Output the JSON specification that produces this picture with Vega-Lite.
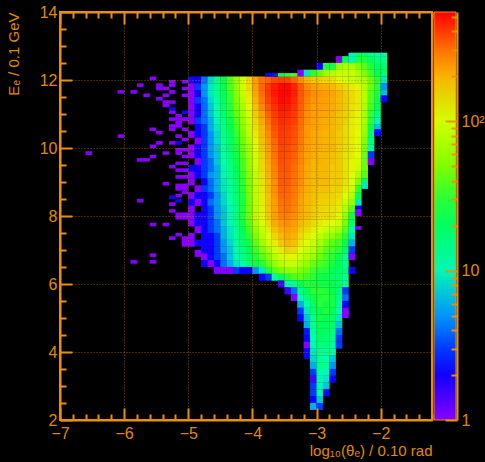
{"$schema":"https://vega.github.io/schema/vega-lite/v6.json","width":372,"height":408,"autosize":{"type":"none"},"padding":{"left":60,"top":12,"right":53,"bottom":42},"background":"#000000",
"config":{"view":{"stroke":"#ee8f00","strokeWidth":2},"axis":{"labelFont":"Liberation Sans","titleFont":"Liberation Sans","labelColor":"#e08a00","titleColor":"#e08a00","domainColor":"#ee8f00","tickColor":"#ee8f00","domainWidth":2,"tickWidth":2,"labelFontSize":16,"titleFontSize":15,"titleFontWeight":"normal","labelOverlap":false,"labelBound":false,"labelFlush":false}},
"datasets":{
"cells":[
{"x":-4.95,"y":12,"n":2},{"x":-4.95,"y":11.8,"n":1},{"x":-4.95,"y":11.6,"n":1},{"x":-4.95,"y":11.4,"n":1},{"x":-4.95,"y":11.2,"n":1},{"x":-4.95,"y":11,"n":1},{"x":-4.95,"y":10.8,"n":1},{"x":-4.95,"y":10.4,"n":1},{"x":-4.95,"y":10,"n":1},{"x":-4.95,"y":9.8,"n":1},{"x":-4.95,"y":9.4,"n":2},{"x":-4.95,"y":9.2,"n":1},{"x":-4.95,"y":9,"n":1},{"x":-4.95,"y":8.6,"n":1},{"x":-4.95,"y":8.4,"n":2},{"x":-4.95,"y":8.2,"n":1},{"x":-4.95,"y":8,"n":1},{"x":-4.95,"y":7.8,"n":1},{"x":-4.95,"y":7.4,"n":1},{"x":-4.95,"y":7.2,"n":1},
{"x":-4.85,"y":12,"n":2},{"x":-4.85,"y":11.8,"n":3},{"x":-4.85,"y":11.6,"n":2},{"x":-4.85,"y":11.4,"n":3},{"x":-4.85,"y":11.2,"n":2},{"x":-4.85,"y":11,"n":2},{"x":-4.85,"y":10.8,"n":3},{"x":-4.85,"y":10.6,"n":2},{"x":-4.85,"y":10.4,"n":2},{"x":-4.85,"y":10.2,"n":1},{"x":-4.85,"y":10,"n":2},{"x":-4.85,"y":9.8,"n":2},{"x":-4.85,"y":9.6,"n":1},{"x":-4.85,"y":9.4,"n":2},{"x":-4.85,"y":9.2,"n":2},{"x":-4.85,"y":8.8,"n":1},{"x":-4.85,"y":8.6,"n":2},{"x":-4.85,"y":8.4,"n":1},{"x":-4.85,"y":8,"n":2},{"x":-4.85,"y":7.8,"n":2},{"x":-4.85,"y":7.6,"n":1},{"x":-4.85,"y":7.2,"n":2},{"x":-4.85,"y":6.9,"n":1},
{"x":-4.75,"y":12,"n":4},{"x":-4.75,"y":11.8,"n":5},{"x":-4.75,"y":11.6,"n":5},{"x":-4.75,"y":11.4,"n":4},{"x":-4.75,"y":11.2,"n":4},{"x":-4.75,"y":11,"n":4},{"x":-4.75,"y":10.8,"n":4},{"x":-4.75,"y":10.6,"n":3},{"x":-4.75,"y":10.4,"n":3},{"x":-4.75,"y":10.2,"n":3},{"x":-4.75,"y":10,"n":3},{"x":-4.75,"y":9.8,"n":3},{"x":-4.75,"y":9.6,"n":3},{"x":-4.75,"y":9.4,"n":3},{"x":-4.75,"y":9.2,"n":3},{"x":-4.75,"y":9,"n":2},{"x":-4.75,"y":8.8,"n":3},{"x":-4.75,"y":8.6,"n":2},{"x":-4.75,"y":8.4,"n":2},{"x":-4.75,"y":8.2,"n":2},{"x":-4.75,"y":8,"n":2},{"x":-4.75,"y":7.8,"n":2},{"x":-4.75,"y":7.6,"n":2},{"x":-4.75,"y":7.4,"n":2},{"x":-4.75,"y":7.2,"n":2},{"x":-4.75,"y":7,"n":2},{"x":-4.75,"y":6.8,"n":1},{"x":-4.75,"y":6.6,"n":2},
{"x":-4.65,"y":12,"n":8},{"x":-4.65,"y":11.8,"n":9},{"x":-4.65,"y":11.6,"n":9},{"x":-4.65,"y":11.4,"n":8},{"x":-4.65,"y":11.2,"n":7},{"x":-4.65,"y":11,"n":7},{"x":-4.65,"y":10.8,"n":6},{"x":-4.65,"y":10.6,"n":6},{"x":-4.65,"y":10.4,"n":5},{"x":-4.65,"y":10.2,"n":5},{"x":-4.65,"y":10,"n":5},{"x":-4.65,"y":9.8,"n":5},{"x":-4.65,"y":9.6,"n":4},{"x":-4.65,"y":9.4,"n":4},{"x":-4.65,"y":9.2,"n":5},{"x":-4.65,"y":9,"n":4},{"x":-4.65,"y":8.8,"n":4},{"x":-4.65,"y":8.6,"n":3},{"x":-4.65,"y":8.4,"n":4},{"x":-4.65,"y":8.2,"n":3},{"x":-4.65,"y":8,"n":3},{"x":-4.65,"y":7.8,"n":3},{"x":-4.65,"y":7.6,"n":3},{"x":-4.65,"y":7.4,"n":2},{"x":-4.65,"y":7.2,"n":2},{"x":-4.65,"y":7,"n":2},{"x":-4.65,"y":6.8,"n":2},{"x":-4.65,"y":6.6,"n":1},
{"x":-4.55,"y":12,"n":14},{"x":-4.55,"y":11.8,"n":14},{"x":-4.55,"y":11.6,"n":13},{"x":-4.55,"y":11.4,"n":12},{"x":-4.55,"y":11.2,"n":11},{"x":-4.55,"y":11,"n":11},{"x":-4.55,"y":10.8,"n":10},{"x":-4.55,"y":10.6,"n":9},{"x":-4.55,"y":10.4,"n":8},{"x":-4.55,"y":10.2,"n":8},{"x":-4.55,"y":10,"n":7},{"x":-4.55,"y":9.8,"n":7},{"x":-4.55,"y":9.6,"n":7},{"x":-4.55,"y":9.4,"n":6},{"x":-4.55,"y":9.2,"n":6},{"x":-4.55,"y":9,"n":6},{"x":-4.55,"y":8.8,"n":6},{"x":-4.55,"y":8.6,"n":5},{"x":-4.55,"y":8.4,"n":5},{"x":-4.55,"y":8.2,"n":5},{"x":-4.55,"y":8,"n":5},{"x":-4.55,"y":7.8,"n":4},{"x":-4.55,"y":7.6,"n":4},{"x":-4.55,"y":7.4,"n":3},{"x":-4.55,"y":7.2,"n":3},{"x":-4.55,"y":7,"n":3},{"x":-4.55,"y":6.8,"n":3},{"x":-4.55,"y":6.6,"n":2},{"x":-4.55,"y":6.4,"n":1},
{"x":-4.45,"y":12,"n":24},{"x":-4.45,"y":11.8,"n":24},{"x":-4.45,"y":11.6,"n":22},{"x":-4.45,"y":11.4,"n":20},{"x":-4.45,"y":11.2,"n":19},{"x":-4.45,"y":11,"n":18},{"x":-4.45,"y":10.8,"n":16},{"x":-4.45,"y":10.6,"n":15},{"x":-4.45,"y":10.4,"n":14},{"x":-4.45,"y":10.2,"n":13},{"x":-4.45,"y":10,"n":12},{"x":-4.45,"y":9.8,"n":12},{"x":-4.45,"y":9.6,"n":11},{"x":-4.45,"y":9.4,"n":10},{"x":-4.45,"y":9.2,"n":10},{"x":-4.45,"y":9,"n":9},{"x":-4.45,"y":8.8,"n":9},{"x":-4.45,"y":8.6,"n":8},{"x":-4.45,"y":8.4,"n":8},{"x":-4.45,"y":8.2,"n":7},{"x":-4.45,"y":8,"n":7},{"x":-4.45,"y":7.8,"n":7},{"x":-4.45,"y":7.6,"n":6},{"x":-4.45,"y":7.4,"n":6},{"x":-4.45,"y":7.2,"n":5},{"x":-4.45,"y":7,"n":5},{"x":-4.45,"y":6.8,"n":4},{"x":-4.45,"y":6.6,"n":4},{"x":-4.45,"y":6.4,"n":1},
{"x":-4.35,"y":12,"n":38},{"x":-4.35,"y":11.8,"n":38},{"x":-4.35,"y":11.6,"n":34},{"x":-4.35,"y":11.4,"n":32},{"x":-4.35,"y":11.2,"n":30},{"x":-4.35,"y":11,"n":28},{"x":-4.35,"y":10.8,"n":25},{"x":-4.35,"y":10.6,"n":23},{"x":-4.35,"y":10.4,"n":21},{"x":-4.35,"y":10.2,"n":20},{"x":-4.35,"y":10,"n":18},{"x":-4.35,"y":9.8,"n":17},{"x":-4.35,"y":9.6,"n":16},{"x":-4.35,"y":9.4,"n":15},{"x":-4.35,"y":9.2,"n":14},{"x":-4.35,"y":9,"n":13},{"x":-4.35,"y":8.8,"n":13},{"x":-4.35,"y":8.6,"n":12},{"x":-4.35,"y":8.4,"n":11},{"x":-4.35,"y":8.2,"n":10},{"x":-4.35,"y":8,"n":10},{"x":-4.35,"y":7.8,"n":10},{"x":-4.35,"y":7.6,"n":9},{"x":-4.35,"y":7.4,"n":9},{"x":-4.35,"y":7.2,"n":8},{"x":-4.35,"y":7,"n":7},{"x":-4.35,"y":6.8,"n":7},{"x":-4.35,"y":6.6,"n":6},{"x":-4.35,"y":6.4,"n":1},
{"x":-4.25,"y":12,"n":60},{"x":-4.25,"y":11.8,"n":60},{"x":-4.25,"y":11.6,"n":55},{"x":-4.25,"y":11.4,"n":50},{"x":-4.25,"y":11.2,"n":46},{"x":-4.25,"y":11,"n":42},{"x":-4.25,"y":10.8,"n":38},{"x":-4.25,"y":10.6,"n":35},{"x":-4.25,"y":10.4,"n":32},{"x":-4.25,"y":10.2,"n":30},{"x":-4.25,"y":10,"n":28},{"x":-4.25,"y":9.8,"n":26},{"x":-4.25,"y":9.6,"n":25},{"x":-4.25,"y":9.4,"n":23},{"x":-4.25,"y":9.2,"n":21},{"x":-4.25,"y":9,"n":20},{"x":-4.25,"y":8.8,"n":19},{"x":-4.25,"y":8.6,"n":18},{"x":-4.25,"y":8.4,"n":17},{"x":-4.25,"y":8.2,"n":16},{"x":-4.25,"y":8,"n":16},{"x":-4.25,"y":7.8,"n":15},{"x":-4.25,"y":7.6,"n":14},{"x":-4.25,"y":7.4,"n":13},{"x":-4.25,"y":7.2,"n":12},{"x":-4.25,"y":7,"n":11},{"x":-4.25,"y":6.8,"n":10},{"x":-4.25,"y":6.6,"n":9},{"x":-4.25,"y":6.4,"n":3},
{"x":-4.15,"y":12,"n":100},{"x":-4.15,"y":11.8,"n":100},{"x":-4.15,"y":11.6,"n":90},{"x":-4.15,"y":11.4,"n":80},{"x":-4.15,"y":11.2,"n":72},{"x":-4.15,"y":11,"n":66},{"x":-4.15,"y":10.8,"n":58},{"x":-4.15,"y":10.6,"n":54},{"x":-4.15,"y":10.4,"n":48},{"x":-4.15,"y":10.2,"n":45},{"x":-4.15,"y":10,"n":42},{"x":-4.15,"y":9.8,"n":40},{"x":-4.15,"y":9.6,"n":36},{"x":-4.15,"y":9.4,"n":35},{"x":-4.15,"y":9.2,"n":32},{"x":-4.15,"y":9,"n":30},{"x":-4.15,"y":8.8,"n":30},{"x":-4.15,"y":8.6,"n":28},{"x":-4.15,"y":8.4,"n":27},{"x":-4.15,"y":8.2,"n":28},{"x":-4.15,"y":8,"n":28},{"x":-4.15,"y":7.8,"n":26},{"x":-4.15,"y":7.6,"n":23},{"x":-4.15,"y":7.4,"n":20},{"x":-4.15,"y":7.2,"n":18},{"x":-4.15,"y":7,"n":16},{"x":-4.15,"y":6.8,"n":14},{"x":-4.15,"y":6.6,"n":12},{"x":-4.15,"y":6.4,"n":2},
{"x":-4.05,"y":12,"n":150},{"x":-4.05,"y":11.8,"n":150},{"x":-4.05,"y":11.6,"n":135},{"x":-4.05,"y":11.4,"n":125},{"x":-4.05,"y":11.2,"n":115},{"x":-4.05,"y":11,"n":100},{"x":-4.05,"y":10.8,"n":92},{"x":-4.05,"y":10.6,"n":85},{"x":-4.05,"y":10.4,"n":80},{"x":-4.05,"y":10.2,"n":72},{"x":-4.05,"y":10,"n":66},{"x":-4.05,"y":9.8,"n":62},{"x":-4.05,"y":9.6,"n":58},{"x":-4.05,"y":9.4,"n":55},{"x":-4.05,"y":9.2,"n":52},{"x":-4.05,"y":9,"n":50},{"x":-4.05,"y":8.8,"n":48},{"x":-4.05,"y":8.6,"n":46},{"x":-4.05,"y":8.4,"n":45},{"x":-4.05,"y":8.2,"n":45},{"x":-4.05,"y":8,"n":45},{"x":-4.05,"y":7.8,"n":40},{"x":-4.05,"y":7.6,"n":35},{"x":-4.05,"y":7.4,"n":30},{"x":-4.05,"y":7.2,"n":26},{"x":-4.05,"y":7,"n":23},{"x":-4.05,"y":6.8,"n":20},{"x":-4.05,"y":6.6,"n":17},{"x":-4.05,"y":6.4,"n":2},
{"x":-3.95,"y":12,"n":240},{"x":-3.95,"y":11.8,"n":240},{"x":-3.95,"y":11.6,"n":220},{"x":-3.95,"y":11.4,"n":200},{"x":-3.95,"y":11.2,"n":180},{"x":-3.95,"y":11,"n":165},{"x":-3.95,"y":10.8,"n":150},{"x":-3.95,"y":10.6,"n":140},{"x":-3.95,"y":10.4,"n":130},{"x":-3.95,"y":10.2,"n":120},{"x":-3.95,"y":10,"n":110},{"x":-3.95,"y":9.8,"n":100},{"x":-3.95,"y":9.6,"n":95},{"x":-3.95,"y":9.4,"n":90},{"x":-3.95,"y":9.2,"n":85},{"x":-3.95,"y":9,"n":85},{"x":-3.95,"y":8.8,"n":82},{"x":-3.95,"y":8.6,"n":80},{"x":-3.95,"y":8.4,"n":80},{"x":-3.95,"y":8.2,"n":80},{"x":-3.95,"y":8,"n":80},{"x":-3.95,"y":7.8,"n":70},{"x":-3.95,"y":7.6,"n":58},{"x":-3.95,"y":7.4,"n":48},{"x":-3.95,"y":7.2,"n":40},{"x":-3.95,"y":7,"n":33},{"x":-3.95,"y":6.8,"n":28},{"x":-3.95,"y":6.6,"n":25},{"x":-3.95,"y":6.4,"n":5},
{"x":-3.85,"y":12,"n":300},{"x":-3.85,"y":11.8,"n":320},{"x":-3.85,"y":11.6,"n":310},{"x":-3.85,"y":11.4,"n":290},{"x":-3.85,"y":11.2,"n":270},{"x":-3.85,"y":11,"n":240},{"x":-3.85,"y":10.8,"n":220},{"x":-3.85,"y":10.6,"n":200},{"x":-3.85,"y":10.4,"n":190},{"x":-3.85,"y":10.2,"n":180},{"x":-3.85,"y":10,"n":170},{"x":-3.85,"y":9.8,"n":160},{"x":-3.85,"y":9.6,"n":155},{"x":-3.85,"y":9.4,"n":150},{"x":-3.85,"y":9.2,"n":140},{"x":-3.85,"y":9,"n":140},{"x":-3.85,"y":8.8,"n":135},{"x":-3.85,"y":8.6,"n":130},{"x":-3.85,"y":8.4,"n":130},{"x":-3.85,"y":8.2,"n":125},{"x":-3.85,"y":8,"n":120},{"x":-3.85,"y":7.8,"n":105},{"x":-3.85,"y":7.6,"n":90},{"x":-3.85,"y":7.4,"n":78},{"x":-3.85,"y":7.2,"n":66},{"x":-3.85,"y":7,"n":50},{"x":-3.85,"y":6.8,"n":40},{"x":-3.85,"y":6.6,"n":30},{"x":-3.85,"y":6.4,"n":9},{"x":-3.85,"y":6.2,"n":2},
{"x":-3.75,"y":12,"n":330},{"x":-3.75,"y":11.8,"n":400},{"x":-3.75,"y":11.6,"n":400},{"x":-3.75,"y":11.4,"n":380},{"x":-3.75,"y":11.2,"n":350},{"x":-3.75,"y":11,"n":320},{"x":-3.75,"y":10.8,"n":300},{"x":-3.75,"y":10.6,"n":280},{"x":-3.75,"y":10.4,"n":260},{"x":-3.75,"y":10.2,"n":250},{"x":-3.75,"y":10,"n":240},{"x":-3.75,"y":9.8,"n":230},{"x":-3.75,"y":9.6,"n":220},{"x":-3.75,"y":9.4,"n":210},{"x":-3.75,"y":9.2,"n":200},{"x":-3.75,"y":9,"n":190},{"x":-3.75,"y":8.8,"n":190},{"x":-3.75,"y":8.6,"n":180},{"x":-3.75,"y":8.4,"n":180},{"x":-3.75,"y":8.2,"n":175},{"x":-3.75,"y":8,"n":170},{"x":-3.75,"y":7.8,"n":150},{"x":-3.75,"y":7.6,"n":130},{"x":-3.75,"y":7.4,"n":110},{"x":-3.75,"y":7.2,"n":95},{"x":-3.75,"y":7,"n":70},{"x":-3.75,"y":6.8,"n":55},{"x":-3.75,"y":6.6,"n":45},{"x":-3.75,"y":6.4,"n":28},{"x":-3.75,"y":6.2,"n":3},
{"x":-3.65,"y":12,"n":380},{"x":-3.65,"y":11.8,"n":470},{"x":-3.65,"y":11.6,"n":480},{"x":-3.65,"y":11.4,"n":450},{"x":-3.65,"y":11.2,"n":420},{"x":-3.65,"y":11,"n":400},{"x":-3.65,"y":10.8,"n":380},{"x":-3.65,"y":10.6,"n":360},{"x":-3.65,"y":10.4,"n":340},{"x":-3.65,"y":10.2,"n":320},{"x":-3.65,"y":10,"n":310},{"x":-3.65,"y":9.8,"n":300},{"x":-3.65,"y":9.6,"n":290},{"x":-3.65,"y":9.4,"n":280},{"x":-3.65,"y":9.2,"n":270},{"x":-3.65,"y":9,"n":260},{"x":-3.65,"y":8.8,"n":260},{"x":-3.65,"y":8.6,"n":250},{"x":-3.65,"y":8.4,"n":240},{"x":-3.65,"y":8.2,"n":235},{"x":-3.65,"y":8,"n":230},{"x":-3.65,"y":7.8,"n":210},{"x":-3.65,"y":7.6,"n":180},{"x":-3.65,"y":7.4,"n":150},{"x":-3.65,"y":7.2,"n":130},{"x":-3.65,"y":7,"n":100},{"x":-3.65,"y":6.8,"n":80},{"x":-3.65,"y":6.6,"n":60},{"x":-3.65,"y":6.4,"n":40},{"x":-3.65,"y":6.2,"n":12},
{"x":-3.55,"y":12,"n":400},{"x":-3.55,"y":11.8,"n":520},{"x":-3.55,"y":11.6,"n":530},{"x":-3.55,"y":11.4,"n":510},{"x":-3.55,"y":11.2,"n":480},{"x":-3.55,"y":11,"n":450},{"x":-3.55,"y":10.8,"n":430},{"x":-3.55,"y":10.6,"n":410},{"x":-3.55,"y":10.4,"n":400},{"x":-3.55,"y":10.2,"n":390},{"x":-3.55,"y":10,"n":380},{"x":-3.55,"y":9.8,"n":370},{"x":-3.55,"y":9.6,"n":360},{"x":-3.55,"y":9.4,"n":350},{"x":-3.55,"y":9.2,"n":340},{"x":-3.55,"y":9,"n":340},{"x":-3.55,"y":8.8,"n":330},{"x":-3.55,"y":8.6,"n":320},{"x":-3.55,"y":8.4,"n":300},{"x":-3.55,"y":8.2,"n":290},{"x":-3.55,"y":8,"n":280},{"x":-3.55,"y":7.8,"n":250},{"x":-3.55,"y":7.6,"n":220},{"x":-3.55,"y":7.4,"n":190},{"x":-3.55,"y":7.2,"n":170},{"x":-3.55,"y":7,"n":130},{"x":-3.55,"y":6.8,"n":100},{"x":-3.55,"y":6.6,"n":80},{"x":-3.55,"y":6.4,"n":50},{"x":-3.55,"y":6.2,"n":20},{"x":-3.55,"y":6,"n":1.5},
{"x":-3.45,"y":12,"n":390},{"x":-3.45,"y":11.8,"n":520},{"x":-3.45,"y":11.6,"n":530},{"x":-3.45,"y":11.4,"n":500},{"x":-3.45,"y":11.2,"n":470},{"x":-3.45,"y":11,"n":440},{"x":-3.45,"y":10.8,"n":420},{"x":-3.45,"y":10.6,"n":400},{"x":-3.45,"y":10.4,"n":390},{"x":-3.45,"y":10.2,"n":380},{"x":-3.45,"y":10,"n":370},{"x":-3.45,"y":9.8,"n":360},{"x":-3.45,"y":9.6,"n":350},{"x":-3.45,"y":9.4,"n":350},{"x":-3.45,"y":9.2,"n":340},{"x":-3.45,"y":9,"n":340},{"x":-3.45,"y":8.8,"n":330},{"x":-3.45,"y":8.6,"n":320},{"x":-3.45,"y":8.4,"n":310},{"x":-3.45,"y":8.2,"n":300},{"x":-3.45,"y":8,"n":280},{"x":-3.45,"y":7.8,"n":260},{"x":-3.45,"y":7.6,"n":240},{"x":-3.45,"y":7.4,"n":220},{"x":-3.45,"y":7.2,"n":200},{"x":-3.45,"y":7,"n":160},{"x":-3.45,"y":6.8,"n":120},{"x":-3.45,"y":6.6,"n":90},{"x":-3.45,"y":6.4,"n":55},{"x":-3.45,"y":6.2,"n":30},{"x":-3.45,"y":6,"n":10},{"x":-3.45,"y":5.8,"n":1.5},
{"x":-3.35,"y":12,"n":330},{"x":-3.35,"y":11.8,"n":450},{"x":-3.35,"y":11.6,"n":460},{"x":-3.35,"y":11.4,"n":440},{"x":-3.35,"y":11.2,"n":420},{"x":-3.35,"y":11,"n":400},{"x":-3.35,"y":10.8,"n":390},{"x":-3.35,"y":10.6,"n":370},{"x":-3.35,"y":10.4,"n":360},{"x":-3.35,"y":10.2,"n":350},{"x":-3.35,"y":10,"n":340},{"x":-3.35,"y":9.8,"n":330},{"x":-3.35,"y":9.6,"n":320},{"x":-3.35,"y":9.4,"n":310},{"x":-3.35,"y":9.2,"n":300},{"x":-3.35,"y":9,"n":300},{"x":-3.35,"y":8.8,"n":290},{"x":-3.35,"y":8.6,"n":290},{"x":-3.35,"y":8.4,"n":280},{"x":-3.35,"y":8.2,"n":270},{"x":-3.35,"y":8,"n":260},{"x":-3.35,"y":7.8,"n":240},{"x":-3.35,"y":7.6,"n":220},{"x":-3.35,"y":7.4,"n":200},{"x":-3.35,"y":7.2,"n":180},{"x":-3.35,"y":7,"n":150},{"x":-3.35,"y":6.8,"n":120},{"x":-3.35,"y":6.6,"n":90},{"x":-3.35,"y":6.4,"n":60},{"x":-3.35,"y":6.2,"n":38},{"x":-3.35,"y":6,"n":14},{"x":-3.35,"y":5.8,"n":4},{"x":-3.35,"y":5.6,"n":1},
{"x":-3.25,"y":12.2,"n":1},{"x":-3.25,"y":12,"n":260},{"x":-3.25,"y":11.8,"n":340},{"x":-3.25,"y":11.6,"n":350},{"x":-3.25,"y":11.4,"n":340},{"x":-3.25,"y":11.2,"n":330},{"x":-3.25,"y":11,"n":320},{"x":-3.25,"y":10.8,"n":310},{"x":-3.25,"y":10.6,"n":300},{"x":-3.25,"y":10.4,"n":290},{"x":-3.25,"y":10.2,"n":290},{"x":-3.25,"y":10,"n":280},{"x":-3.25,"y":9.8,"n":270},{"x":-3.25,"y":9.6,"n":270},{"x":-3.25,"y":9.4,"n":260},{"x":-3.25,"y":9.2,"n":260},{"x":-3.25,"y":9,"n":260},{"x":-3.25,"y":8.8,"n":250},{"x":-3.25,"y":8.6,"n":240},{"x":-3.25,"y":8.4,"n":230},{"x":-3.25,"y":8.2,"n":220},{"x":-3.25,"y":8,"n":210},{"x":-3.25,"y":7.8,"n":190},{"x":-3.25,"y":7.6,"n":170},{"x":-3.25,"y":7.4,"n":150},{"x":-3.25,"y":7.2,"n":130},{"x":-3.25,"y":7,"n":110},{"x":-3.25,"y":6.8,"n":90},{"x":-3.25,"y":6.6,"n":70},{"x":-3.25,"y":6.4,"n":50},{"x":-3.25,"y":6.2,"n":40},{"x":-3.25,"y":6,"n":22},{"x":-3.25,"y":5.8,"n":15},{"x":-3.25,"y":5.6,"n":10},{"x":-3.25,"y":5.4,"n":6},{"x":-3.25,"y":5.2,"n":3},{"x":-3.25,"y":5,"n":2},
{"x":-3.15,"y":12.2,"n":9},{"x":-3.15,"y":12,"n":200},{"x":-3.15,"y":11.8,"n":270},{"x":-3.15,"y":11.6,"n":290},{"x":-3.15,"y":11.4,"n":280},{"x":-3.15,"y":11.2,"n":270},{"x":-3.15,"y":11,"n":260},{"x":-3.15,"y":10.8,"n":260},{"x":-3.15,"y":10.6,"n":250},{"x":-3.15,"y":10.4,"n":250},{"x":-3.15,"y":10.2,"n":240},{"x":-3.15,"y":10,"n":240},{"x":-3.15,"y":9.8,"n":230},{"x":-3.15,"y":9.6,"n":230},{"x":-3.15,"y":9.4,"n":220},{"x":-3.15,"y":9.2,"n":220},{"x":-3.15,"y":9,"n":210},{"x":-3.15,"y":8.8,"n":210},{"x":-3.15,"y":8.6,"n":200},{"x":-3.15,"y":8.4,"n":200},{"x":-3.15,"y":8.2,"n":190},{"x":-3.15,"y":8,"n":190},{"x":-3.15,"y":7.8,"n":170},{"x":-3.15,"y":7.6,"n":150},{"x":-3.15,"y":7.4,"n":130},{"x":-3.15,"y":7.2,"n":110},{"x":-3.15,"y":7,"n":90},{"x":-3.15,"y":6.8,"n":75},{"x":-3.15,"y":6.6,"n":60},{"x":-3.15,"y":6.4,"n":45},{"x":-3.15,"y":6.2,"n":34},{"x":-3.15,"y":6,"n":28},{"x":-3.15,"y":5.8,"n":22},{"x":-3.15,"y":5.6,"n":17},{"x":-3.15,"y":5.4,"n":11},{"x":-3.15,"y":5.2,"n":9},{"x":-3.15,"y":5,"n":7},{"x":-3.15,"y":4.8,"n":6},{"x":-3.15,"y":4.6,"n":2.5},{"x":-3.15,"y":4.4,"n":2},{"x":-3.15,"y":4.2,"n":1},{"x":-3.15,"y":4,"n":2},{"x":-3.15,"y":3.9,"n":2},
{"x":-3.05,"y":12.2,"n":30},{"x":-3.05,"y":12,"n":170},{"x":-3.05,"y":11.8,"n":240},{"x":-3.05,"y":11.6,"n":260},{"x":-3.05,"y":11.4,"n":250},{"x":-3.05,"y":11.2,"n":240},{"x":-3.05,"y":11,"n":240},{"x":-3.05,"y":10.8,"n":230},{"x":-3.05,"y":10.6,"n":230},{"x":-3.05,"y":10.4,"n":220},{"x":-3.05,"y":10.2,"n":220},{"x":-3.05,"y":10,"n":210},{"x":-3.05,"y":9.8,"n":210},{"x":-3.05,"y":9.6,"n":200},{"x":-3.05,"y":9.4,"n":200},{"x":-3.05,"y":9.2,"n":190},{"x":-3.05,"y":9,"n":190},{"x":-3.05,"y":8.8,"n":190},{"x":-3.05,"y":8.6,"n":180},{"x":-3.05,"y":8.4,"n":180},{"x":-3.05,"y":8.2,"n":170},{"x":-3.05,"y":8,"n":170},{"x":-3.05,"y":7.8,"n":150},{"x":-3.05,"y":7.6,"n":130},{"x":-3.05,"y":7.4,"n":110},{"x":-3.05,"y":7.2,"n":90},{"x":-3.05,"y":7,"n":75},{"x":-3.05,"y":6.8,"n":60},{"x":-3.05,"y":6.6,"n":45},{"x":-3.05,"y":6.4,"n":35},{"x":-3.05,"y":6.2,"n":30},{"x":-3.05,"y":6,"n":27},{"x":-3.05,"y":5.8,"n":30},{"x":-3.05,"y":5.6,"n":25},{"x":-3.05,"y":5.4,"n":20},{"x":-3.05,"y":5.2,"n":18},{"x":-3.05,"y":5,"n":14},{"x":-3.05,"y":4.8,"n":14},{"x":-3.05,"y":4.6,"n":12},{"x":-3.05,"y":4.4,"n":11},{"x":-3.05,"y":4.2,"n":10},{"x":-3.05,"y":4,"n":9},{"x":-3.05,"y":3.8,"n":8},{"x":-3.05,"y":3.6,"n":6},{"x":-3.05,"y":3.4,"n":3},{"x":-3.05,"y":3.2,"n":1.5},{"x":-3.05,"y":3,"n":3},{"x":-3.05,"y":2.8,"n":3},{"x":-3.05,"y":2.6,"n":2},{"x":-3.05,"y":2.4,"n":6},
{"x":-2.95,"y":12.4,"n":2},{"x":-2.95,"y":12.2,"n":45},{"x":-2.95,"y":12,"n":160},{"x":-2.95,"y":11.8,"n":220},{"x":-2.95,"y":11.6,"n":250},{"x":-2.95,"y":11.4,"n":240},{"x":-2.95,"y":11.2,"n":240},{"x":-2.95,"y":11,"n":230},{"x":-2.95,"y":10.8,"n":220},{"x":-2.95,"y":10.6,"n":220},{"x":-2.95,"y":10.4,"n":210},{"x":-2.95,"y":10.2,"n":210},{"x":-2.95,"y":10,"n":210},{"x":-2.95,"y":9.8,"n":200},{"x":-2.95,"y":9.6,"n":200},{"x":-2.95,"y":9.4,"n":190},{"x":-2.95,"y":9.2,"n":190},{"x":-2.95,"y":9,"n":190},{"x":-2.95,"y":8.8,"n":180},{"x":-2.95,"y":8.6,"n":170},{"x":-2.95,"y":8.4,"n":160},{"x":-2.95,"y":8.2,"n":155},{"x":-2.95,"y":8,"n":150},{"x":-2.95,"y":7.8,"n":130},{"x":-2.95,"y":7.6,"n":105},{"x":-2.95,"y":7.4,"n":85},{"x":-2.95,"y":7.2,"n":70},{"x":-2.95,"y":7,"n":55},{"x":-2.95,"y":6.8,"n":45},{"x":-2.95,"y":6.6,"n":38},{"x":-2.95,"y":6.4,"n":30},{"x":-2.95,"y":6.2,"n":25},{"x":-2.95,"y":6,"n":25},{"x":-2.95,"y":5.8,"n":30},{"x":-2.95,"y":5.6,"n":28},{"x":-2.95,"y":5.4,"n":30},{"x":-2.95,"y":5.2,"n":24},{"x":-2.95,"y":5,"n":26},{"x":-2.95,"y":4.8,"n":22},{"x":-2.95,"y":4.6,"n":22},{"x":-2.95,"y":4.4,"n":20},{"x":-2.95,"y":4.2,"n":16},{"x":-2.95,"y":4,"n":14},{"x":-2.95,"y":3.8,"n":13},{"x":-2.95,"y":3.6,"n":14},{"x":-2.95,"y":3.4,"n":11},{"x":-2.95,"y":3.2,"n":10},{"x":-2.95,"y":3,"n":10},{"x":-2.95,"y":2.8,"n":12},{"x":-2.95,"y":2.6,"n":7},{"x":-2.95,"y":2.4,"n":3},
{"x":-2.85,"y":12.4,"n":28},{"x":-2.85,"y":12.2,"n":70},{"x":-2.85,"y":12,"n":150},{"x":-2.85,"y":11.8,"n":210},{"x":-2.85,"y":11.6,"n":240},{"x":-2.85,"y":11.4,"n":230},{"x":-2.85,"y":11.2,"n":230},{"x":-2.85,"y":11,"n":220},{"x":-2.85,"y":10.8,"n":210},{"x":-2.85,"y":10.6,"n":210},{"x":-2.85,"y":10.4,"n":200},{"x":-2.85,"y":10.2,"n":200},{"x":-2.85,"y":10,"n":200},{"x":-2.85,"y":9.8,"n":200},{"x":-2.85,"y":9.6,"n":190},{"x":-2.85,"y":9.4,"n":190},{"x":-2.85,"y":9.2,"n":190},{"x":-2.85,"y":9,"n":190},{"x":-2.85,"y":8.8,"n":180},{"x":-2.85,"y":8.6,"n":170},{"x":-2.85,"y":8.4,"n":160},{"x":-2.85,"y":8.2,"n":150},{"x":-2.85,"y":8,"n":150},{"x":-2.85,"y":7.8,"n":120},{"x":-2.85,"y":7.6,"n":90},{"x":-2.85,"y":7.4,"n":65},{"x":-2.85,"y":7.2,"n":50},{"x":-2.85,"y":7,"n":40},{"x":-2.85,"y":6.8,"n":35},{"x":-2.85,"y":6.6,"n":33},{"x":-2.85,"y":6.4,"n":28},{"x":-2.85,"y":6.2,"n":24},{"x":-2.85,"y":6,"n":25},{"x":-2.85,"y":5.8,"n":28},{"x":-2.85,"y":5.6,"n":30},{"x":-2.85,"y":5.4,"n":26},{"x":-2.85,"y":5.2,"n":28},{"x":-2.85,"y":5,"n":22},{"x":-2.85,"y":4.8,"n":22},{"x":-2.85,"y":4.6,"n":20},{"x":-2.85,"y":4.4,"n":17},{"x":-2.85,"y":4.2,"n":17},{"x":-2.85,"y":4,"n":13},{"x":-2.85,"y":3.8,"n":11},{"x":-2.85,"y":3.6,"n":13},{"x":-2.85,"y":3.4,"n":10},{"x":-2.85,"y":3.2,"n":9},{"x":-2.85,"y":3,"n":7},{"x":-2.85,"y":2.8,"n":2},
{"x":-2.75,"y":12.4,"n":25},{"x":-2.75,"y":12.2,"n":80},{"x":-2.75,"y":12,"n":140},{"x":-2.75,"y":11.8,"n":190},{"x":-2.75,"y":11.6,"n":220},{"x":-2.75,"y":11.4,"n":210},{"x":-2.75,"y":11.2,"n":210},{"x":-2.75,"y":11,"n":210},{"x":-2.75,"y":10.8,"n":200},{"x":-2.75,"y":10.6,"n":190},{"x":-2.75,"y":10.4,"n":190},{"x":-2.75,"y":10.2,"n":190},{"x":-2.75,"y":10,"n":190},{"x":-2.75,"y":9.8,"n":180},{"x":-2.75,"y":9.6,"n":180},{"x":-2.75,"y":9.4,"n":170},{"x":-2.75,"y":9.2,"n":170},{"x":-2.75,"y":9,"n":170},{"x":-2.75,"y":8.8,"n":160},{"x":-2.75,"y":8.6,"n":160},{"x":-2.75,"y":8.4,"n":150},{"x":-2.75,"y":8.2,"n":140},{"x":-2.75,"y":8,"n":140},{"x":-2.75,"y":7.8,"n":110},{"x":-2.75,"y":7.6,"n":80},{"x":-2.75,"y":7.4,"n":55},{"x":-2.75,"y":7.2,"n":40},{"x":-2.75,"y":7,"n":35},{"x":-2.75,"y":6.8,"n":30},{"x":-2.75,"y":6.6,"n":27},{"x":-2.75,"y":6.4,"n":23},{"x":-2.75,"y":6.2,"n":20},{"x":-2.75,"y":6,"n":22},{"x":-2.75,"y":5.8,"n":24},{"x":-2.75,"y":5.6,"n":26},{"x":-2.75,"y":5.4,"n":26},{"x":-2.75,"y":5.2,"n":22},{"x":-2.75,"y":5,"n":20},{"x":-2.75,"y":4.8,"n":20},{"x":-2.75,"y":4.6,"n":17},{"x":-2.75,"y":4.4,"n":15},{"x":-2.75,"y":4.2,"n":13},{"x":-2.75,"y":4,"n":12},{"x":-2.75,"y":3.8,"n":7},{"x":-2.75,"y":3.6,"n":5},{"x":-2.75,"y":3.4,"n":3},{"x":-2.75,"y":3.2,"n":2},
{"x":-2.65,"y":12.6,"n":1},{"x":-2.65,"y":12.4,"n":60},{"x":-2.65,"y":12.2,"n":90},{"x":-2.65,"y":12,"n":120},{"x":-2.65,"y":11.8,"n":170},{"x":-2.65,"y":11.6,"n":200},{"x":-2.65,"y":11.4,"n":190},{"x":-2.65,"y":11.2,"n":190},{"x":-2.65,"y":11,"n":180},{"x":-2.65,"y":10.8,"n":180},{"x":-2.65,"y":10.6,"n":180},{"x":-2.65,"y":10.4,"n":170},{"x":-2.65,"y":10.2,"n":170},{"x":-2.65,"y":10,"n":170},{"x":-2.65,"y":9.8,"n":170},{"x":-2.65,"y":9.6,"n":170},{"x":-2.65,"y":9.4,"n":170},{"x":-2.65,"y":9.2,"n":170},{"x":-2.65,"y":9,"n":170},{"x":-2.65,"y":8.8,"n":160},{"x":-2.65,"y":8.6,"n":150},{"x":-2.65,"y":8.4,"n":140},{"x":-2.65,"y":8.2,"n":130},{"x":-2.65,"y":8,"n":120},{"x":-2.65,"y":7.8,"n":95},{"x":-2.65,"y":7.6,"n":70},{"x":-2.65,"y":7.4,"n":45},{"x":-2.65,"y":7.2,"n":35},{"x":-2.65,"y":7,"n":30},{"x":-2.65,"y":6.8,"n":25},{"x":-2.65,"y":6.6,"n":22},{"x":-2.65,"y":6.4,"n":20},{"x":-2.65,"y":6.2,"n":18},{"x":-2.65,"y":6,"n":19},{"x":-2.65,"y":5.8,"n":18},{"x":-2.65,"y":5.6,"n":16},{"x":-2.65,"y":5.4,"n":14},{"x":-2.65,"y":5.2,"n":11},{"x":-2.65,"y":5,"n":9},{"x":-2.65,"y":4.8,"n":7},{"x":-2.65,"y":4.6,"n":4},{"x":-2.65,"y":4.4,"n":3},{"x":-2.65,"y":4.2,"n":3},
{"x":-2.55,"y":12.6,"n":22},{"x":-2.55,"y":12.4,"n":70},{"x":-2.55,"y":12.2,"n":90},{"x":-2.55,"y":12,"n":100},{"x":-2.55,"y":11.8,"n":150},{"x":-2.55,"y":11.6,"n":170},{"x":-2.55,"y":11.4,"n":170},{"x":-2.55,"y":11.2,"n":170},{"x":-2.55,"y":11,"n":160},{"x":-2.55,"y":10.8,"n":160},{"x":-2.55,"y":10.6,"n":150},{"x":-2.55,"y":10.4,"n":150},{"x":-2.55,"y":10.2,"n":150},{"x":-2.55,"y":10,"n":150},{"x":-2.55,"y":9.8,"n":140},{"x":-2.55,"y":9.6,"n":140},{"x":-2.55,"y":9.4,"n":140},{"x":-2.55,"y":9.2,"n":140},{"x":-2.55,"y":9,"n":140},{"x":-2.55,"y":8.8,"n":130},{"x":-2.55,"y":8.6,"n":110},{"x":-2.55,"y":8.4,"n":90},{"x":-2.55,"y":8.2,"n":75},{"x":-2.55,"y":8,"n":60},{"x":-2.55,"y":7.8,"n":50},{"x":-2.55,"y":7.6,"n":40},{"x":-2.55,"y":7.4,"n":30},{"x":-2.55,"y":7.2,"n":24},{"x":-2.55,"y":7,"n":20},{"x":-2.55,"y":6.8,"n":15},{"x":-2.55,"y":6.6,"n":14},{"x":-2.55,"y":6.4,"n":18},{"x":-2.55,"y":6.2,"n":14},{"x":-2.55,"y":6,"n":12},{"x":-2.55,"y":5.8,"n":3},{"x":-2.55,"y":5.6,"n":4},{"x":-2.55,"y":5.4,"n":2},{"x":-2.55,"y":5.2,"n":1},{"x":-2.55,"y":5.1,"n":1},
{"x":-2.45,"y":12.6,"n":10},{"x":-2.45,"y":12.4,"n":70},{"x":-2.45,"y":12.2,"n":90},{"x":-2.45,"y":12,"n":90},{"x":-2.45,"y":11.8,"n":130},{"x":-2.45,"y":11.6,"n":150},{"x":-2.45,"y":11.4,"n":150},{"x":-2.45,"y":11.2,"n":140},{"x":-2.45,"y":11,"n":140},{"x":-2.45,"y":10.8,"n":130},{"x":-2.45,"y":10.6,"n":130},{"x":-2.45,"y":10.4,"n":130},{"x":-2.45,"y":10.2,"n":130},{"x":-2.45,"y":10,"n":130},{"x":-2.45,"y":9.8,"n":130},{"x":-2.45,"y":9.6,"n":120},{"x":-2.45,"y":9.4,"n":120},{"x":-2.45,"y":9.2,"n":110},{"x":-2.45,"y":9,"n":110},{"x":-2.45,"y":8.8,"n":100},{"x":-2.45,"y":8.6,"n":80},{"x":-2.45,"y":8.4,"n":60},{"x":-2.45,"y":8.2,"n":40},{"x":-2.45,"y":8,"n":25},{"x":-2.45,"y":7.8,"n":18},{"x":-2.45,"y":7.6,"n":12},{"x":-2.45,"y":7.4,"n":9},{"x":-2.45,"y":7.2,"n":6},{"x":-2.45,"y":7,"n":3},{"x":-2.45,"y":6.8,"n":1},{"x":-2.45,"y":6.4,"n":2},
{"x":-2.35,"y":12.6,"n":28},{"x":-2.35,"y":12.4,"n":50},{"x":-2.35,"y":12.2,"n":70},{"x":-2.35,"y":12,"n":80},{"x":-2.35,"y":11.8,"n":120},{"x":-2.35,"y":11.6,"n":130},{"x":-2.35,"y":11.4,"n":130},{"x":-2.35,"y":11.2,"n":130},{"x":-2.35,"y":11,"n":120},{"x":-2.35,"y":10.8,"n":120},{"x":-2.35,"y":10.6,"n":120},{"x":-2.35,"y":10.4,"n":110},{"x":-2.35,"y":10.2,"n":110},{"x":-2.35,"y":10,"n":110},{"x":-2.35,"y":9.8,"n":110},{"x":-2.35,"y":9.6,"n":100},{"x":-2.35,"y":9.4,"n":90},{"x":-2.35,"y":9.2,"n":70},{"x":-2.35,"y":9,"n":50},{"x":-2.35,"y":8.8,"n":32},{"x":-2.35,"y":8.6,"n":20},{"x":-2.35,"y":8.4,"n":9},{"x":-2.35,"y":8.2,"n":2},{"x":-2.35,"y":8.1,"n":1},
{"x":-2.25,"y":12.6,"n":28},{"x":-2.25,"y":12.4,"n":40},{"x":-2.25,"y":12.2,"n":50},{"x":-2.25,"y":12,"n":70},{"x":-2.25,"y":11.8,"n":80},{"x":-2.25,"y":11.6,"n":80},{"x":-2.25,"y":11.4,"n":80},{"x":-2.25,"y":11.2,"n":75},{"x":-2.25,"y":11,"n":70},{"x":-2.25,"y":10.8,"n":70},{"x":-2.25,"y":10.6,"n":65},{"x":-2.25,"y":10.4,"n":60},{"x":-2.25,"y":10.2,"n":55},{"x":-2.25,"y":10,"n":50},{"x":-2.25,"y":9.8,"n":45},{"x":-2.25,"y":9.6,"n":45},{"x":-2.25,"y":9.4,"n":45},{"x":-2.25,"y":9.2,"n":40},{"x":-2.25,"y":9,"n":20},{"x":-2.25,"y":8.9,"n":9},
{"x":-2.15,"y":12.6,"n":22},{"x":-2.15,"y":12.4,"n":28},{"x":-2.15,"y":12.2,"n":35},{"x":-2.15,"y":12,"n":45},{"x":-2.15,"y":11.8,"n":45},{"x":-2.15,"y":11.6,"n":40},{"x":-2.15,"y":11.4,"n":38},{"x":-2.15,"y":11.2,"n":35},{"x":-2.15,"y":11,"n":32},{"x":-2.15,"y":10.8,"n":30},{"x":-2.15,"y":10.6,"n":25},{"x":-2.15,"y":10.4,"n":20},{"x":-2.15,"y":10.2,"n":15},{"x":-2.15,"y":10,"n":11},{"x":-2.15,"y":9.8,"n":3},{"x":-2.15,"y":9.6,"n":1},
{"x":-2.05,"y":12.6,"n":16},{"x":-2.05,"y":12.4,"n":22},{"x":-2.05,"y":12.2,"n":22},{"x":-2.05,"y":12,"n":30},{"x":-2.05,"y":11.8,"n":30},{"x":-2.05,"y":11.6,"n":28},{"x":-2.05,"y":11.4,"n":26},{"x":-2.05,"y":11.2,"n":22},{"x":-2.05,"y":11,"n":15},{"x":-2.05,"y":10.8,"n":10},{"x":-2.05,"y":10.6,"n":7},{"x":-2.05,"y":10.45,"n":2},
{"x":-1.95,"y":12.6,"n":14},{"x":-1.95,"y":12.4,"n":18},{"x":-1.95,"y":12.2,"n":18},{"x":-1.95,"y":12,"n":9},{"x":-1.95,"y":11.8,"n":5},{"x":-1.95,"y":11.6,"n":7},{"x":-1.95,"y":11.45,"n":2}
],
"sparse":[
{"x":-2.45,"y":12.75,"n":10},{"x":-2.35,"y":12.75,"n":17},{"x":-2.25,"y":12.75,"n":17},{"x":-2.15,"y":12.75,"n":13},{"x":-2.05,"y":12.75,"n":12},{"x":-1.95,"y":12.75,"n":10},
{"x":-3.75,"y":12.15,"n":2},{"x":-3.65,"y":12.15,"n":2.5},{"x":-3.55,"y":12.15,"n":22},{"x":-3.45,"y":12.15,"n":30},{"x":-3.35,"y":12.15,"n":35},
{"x":-5.55,"y":12.05,"n":1},{"x":-5.75,"y":11.85,"n":1},{"x":-5.45,"y":11.85,"n":1},{"x":-6.05,"y":11.65,"n":1},{"x":-5.85,"y":11.65,"n":1},{"x":-5.45,"y":11.75,"n":1},{"x":-5.35,"y":11.75,"n":1},{"x":-5.25,"y":11.95,"n":1},{"x":-5.25,"y":11.85,"n":1},{"x":-5.65,"y":11.55,"n":1},{"x":-5.35,"y":11.55,"n":1},{"x":-5.25,"y":11.65,"n":1},{"x":-5.45,"y":11.45,"n":1},{"x":-5.35,"y":11.35,"n":1},{"x":-5.25,"y":11.35,"n":1},{"x":-5.35,"y":11.25,"n":1},{"x":-5.25,"y":11.15,"n":2},{"x":-5.25,"y":11.05,"n":1},{"x":-5.15,"y":10.95,"n":1},{"x":-5.05,"y":11.05,"n":2},{"x":-5.25,"y":10.85,"n":1},{"x":-5.15,"y":10.85,"n":1},{"x":-5.05,"y":10.85,"n":1},{"x":-5.25,"y":10.65,"n":1},{"x":-5.15,"y":10.75,"n":1},{"x":-5.25,"y":10.55,"n":1},{"x":-5.15,"y":10.65,"n":1},{"x":-5.55,"y":10.55,"n":1},{"x":-5.45,"y":10.45,"n":1},{"x":-6.05,"y":10.35,"n":1},{"x":-5.15,"y":10.35,"n":1},{"x":-5.45,"y":10.15,"n":1},{"x":-5.25,"y":10.15,"n":1},{"x":-5.15,"y":10.15,"n":2},{"x":-5.55,"y":10.05,"n":1},{"x":-5.15,"y":9.95,"n":1},{"x":-5.15,"y":9.85,"n":1},{"x":-5.35,"y":9.85,"n":1},{"x":-5.55,"y":9.75,"n":1},{"x":-5.75,"y":9.65,"n":1},{"x":-5.65,"y":9.65,"n":1},{"x":-5.25,"y":9.45,"n":1},{"x":-5.15,"y":9.55,"n":1},{"x":-5.05,"y":9.55,"n":1},{"x":-5.15,"y":9.35,"n":1},{"x":-5.05,"y":9.35,"n":1},{"x":-5.15,"y":9.15,"n":1},{"x":-5.05,"y":9.15,"n":1},{"x":-5.35,"y":8.95,"n":1},{"x":-5.15,"y":8.9,"n":1},{"x":-5.05,"y":8.9,"n":1},{"x":-5.15,"y":8.8,"n":1},{"x":-5.05,"y":8.8,"n":1},{"x":-5.05,"y":8.7,"n":1},{"x":-5.15,"y":8.6,"n":1},{"x":-5.75,"y":8.45,"n":1},{"x":-5.25,"y":8.55,"n":2},{"x":-5.15,"y":8.45,"n":2},{"x":-5.25,"y":8.35,"n":1},{"x":-5.25,"y":8.15,"n":1},{"x":-5.15,"y":8.05,"n":1},{"x":-5.05,"y":8.05,"n":1},{"x":-5.15,"y":7.95,"n":1},{"x":-5.05,"y":7.95,"n":1},{"x":-5.55,"y":7.75,"n":1},{"x":-5.35,"y":7.75,"n":1},{"x":-5.15,"y":7.45,"n":1},{"x":-5.25,"y":7.35,"n":1},{"x":-5.05,"y":7.35,"n":1},{"x":-5.05,"y":7.25,"n":1},{"x":-5.05,"y":7.15,"n":1},{"x":-5.55,"y":6.85,"n":1},{"x":-5.85,"y":6.65,"n":1},{"x":-5.55,"y":6.65,"n":1},{"x":-6.55,"y":9.85,"n":1},{"x":-5.05,"y":11.95,"n":1},{"x":-5.05,"y":11.75,"n":1},{"x":-5.05,"y":11.55,"n":1},{"x":-5.05,"y":10.55,"n":1},{"x":-5.05,"y":10.25,"n":1},{"x":-5.05,"y":9.95,"n":1},{"x":-5.05,"y":9.75,"n":1},
{"x":-2.35,"y":7.65,"n":1}
],
"bar":[{"n":1},{"n":540}]
},
"resolve":{"scale":{"y":"independent"},"axis":{"x":"independent","y":"independent"}},
"layer":[
{"data":{"name":"cells"},"mark":{"type":"rect","width":6.6,"height":7},
"encoding":{
"x":{"field":"x","type":"quantitative","scale":{"domain":[-7,-1.2],"nice":false,"zero":false},
"axis":{"orient":"bottom","title":"log₁₀(θₑ) / 0.10 rad","titleAnchor":"end","titleAlign":"right","titleBaseline":"alphabetic","titleX":372,"titleY":35,"zindex":1,"grid":true,"gridColor":"#c07800","gridDash":[1,2],"gridWidth":1,"gridOpacity":{"condition":{"test":"datum.value%1==0","value":0.7},"value":0},"tickSize":{"condition":{"test":"datum.value%1==0","value":-12},"value":-6},"labelPadding":17,"values":[-7,-6.8,-6.6,-6.4,-6.2,-6,-5.8,-5.6,-5.4,-5.2,-5,-4.8,-4.6,-4.4,-4.2,-4,-3.8,-3.6,-3.4,-3.2,-3,-2.8,-2.6,-2.4,-2.2,-2,-1.8,-1.6,-1.4,-1.2],"labelExpr":"datum.value%1==0?format(datum.value,'d'):''"}},
"y":{"field":"y","type":"quantitative","scale":{"domain":[2,14],"nice":false,"zero":false},
"axis":{"orient":"left","title":"Eₑ / 0.1 GeV","titleAngle":-90,"titleAlign":"right","titleBaseline":"alphabetic","titleX":-42,"titleY":0,"zindex":1,"grid":true,"gridColor":"#c07800","gridDash":[1,2],"gridWidth":1,"gridOpacity":{"condition":{"test":"datum.value%2==0&&datum.value>2&&datum.value<14","value":0.7},"value":0},"tickSize":{"condition":{"test":"datum.value%2==0","value":-12},"value":-6},"labelPadding":15,"values":[2,2.5,3,3.5,4,4.5,5,5.5,6,6.5,7,7.5,8,8.5,9,9.5,10,10.5,11,11.5,12,12.5,13,13.5,14],"labelExpr":"datum.value%2==0?format(datum.value,'d'):''"}},
"color":{"field":"n","type":"quantitative","scale":{"type":"log","domain":[1,540],"clamp":true,"interpolate":"rgb","range":["#8800ff","#0000ff","#0090ff","#00ffb0","#00ff50","#80ff00","#e0ff00","#ff9900","#ff0000"]},
"legend":{"orient":"none","legendX":374,"legendY":0,"direction":"vertical","title":null,"gradientLength":408,"gradientThickness":22,"gradientStrokeColor":"#ee8f00","gradientStrokeWidth":1,"labelOpacity":0}}
}},
{"data":{"name":"sparse"},"mark":{"type":"rect","width":6.6,"height":3.6},
"encoding":{
"x":{"field":"x","type":"quantitative","axis":null},
"y":{"field":"y","type":"quantitative","scale":{"domain":[2,14],"nice":false,"zero":false},"axis":null},
"color":{"field":"n","type":"quantitative"}
}},
{"data":{"name":"bar"},"mark":{"type":"rule","opacity":0},
"encoding":{
"x":{"field":"n","type":"quantitative","axis":{"orient":"top","title":null,"labels":false,"grid":false,"zindex":1,"tickSize":{"condition":{"test":"datum.value%1==0","value":-12},"value":-6},"values":[-7,-6.8,-6.6,-6.4,-6.2,-6,-5.8,-5.6,-5.4,-5.2,-5,-4.8,-4.6,-4.4,-4.2,-4,-3.8,-3.6,-3.4,-3.2,-3,-2.8,-2.6,-2.4,-2.2,-2,-1.8,-1.6,-1.4,-1.2]}},
"y":{"field":"n","type":"quantitative","scale":{"type":"log","domain":[1,540],"nice":false},
"axis":{"orient":"right","offset":25,"title":null,"grid":false,"zindex":2,"labelPadding":16,"labelFontSize":16,"tickSize":{"condition":{"test":"datum.value==1||datum.value==10||datum.value==100","value":-12},"value":-6},"values":[1,2,3,4,5,6,7,8,9,10,20,30,40,50,60,70,80,90,100,200,300,400,500],"labelExpr":"datum.value==1?'1':datum.value==10?'10':datum.value==100?'10²':''"}}
}}
]}
